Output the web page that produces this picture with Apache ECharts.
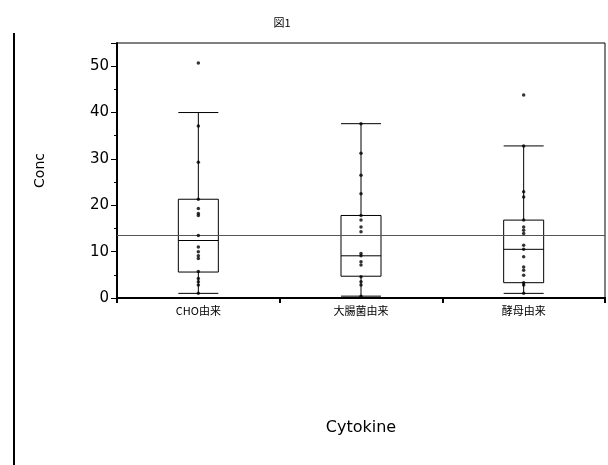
<!DOCTYPE html>
<html>
<head>
<meta charset="utf-8">
<script src="https://cdn.jsdelivr.net/npm/echarts@6/dist/echarts.min.js"></script>
<style>html,body{margin:0;padding:0;background:#fff;}#c{width:608px;height:465px;}</style>
</head>
<body>
<div id="c"></div>
<script>
var categories = ['CHO由来', '大腸菌由来', '酵母由来'];
// [lower whisker, Q1, median, Q3, upper whisker]
var boxCHO = [1.0, 5.6, 12.4, 21.3, 40.0];
var boxEcoli = [0.4, 4.7, 9.1, 17.8, 37.6];
var boxYeast = [1.0, 3.3, 10.5, 16.8, 32.8];
var pointsCHO = [50.7, 37.1, 29.3, 21.3, 19.3, 18.2, 17.8, 13.5, 11.0, 10.0, 9.1, 8.5, 5.7, 4.2, 3.5, 2.8, 1.0];
var pointsEcoli = [37.6, 31.2, 26.5, 22.5, 17.8, 16.8, 15.3, 14.3, 9.6, 9.1, 7.8, 7.1, 4.6, 3.5, 2.8, 0.4];
var pointsYeast = [43.8, 32.8, 22.9, 21.8, 16.8, 15.3, 14.6, 13.9, 11.4, 10.5, 8.9, 6.7, 6.0, 4.9, 3.3, 2.8, 1.0];
var grandMean = 13.5;
var yMin = 0, yMax = 55, yInterval = 10;

var boxes = [boxCHO, boxEcoli, boxYeast];
var pts = [pointsCHO, pointsEcoli, pointsYeast];
var scatterData = [];
pts.forEach(function (arr, i) {
  arr.forEach(function (v) { scatterData.push([categories[i], v]); });
});

var chart = echarts.init(document.getElementById('c'));
chart.setOption({
  backgroundColor: '#fff',
  animation: false,
  title: {
    text: '図1', left: 277, top: 12, textAlign: 'center',
    textStyle: { fontSize: 11, fontWeight: 'normal', color: '#000', fontFamily: 'Noto Sans CJK JP' }
  },
  grid: { left: 117, right: 3, top: 43, bottom: 167, show: true, borderColor: '#000', borderWidth: 1, backgroundColor: 'transparent' },
  xAxis: {
    type: 'category', data: categories, boundaryGap: true,
    name: 'Cytokine', nameLocation: 'middle', nameGap: 122,
    nameTextStyle: { fontSize: 16, color: '#000', fontFamily: 'DejaVu Sans' },
    axisLine: { lineStyle: { color: '#000', width: 2 } },
    axisTick: { show: true, alignWithLabel: false, length: 5, lineStyle: { color: '#000', width: 2 } },
    axisLabel: { fontSize: 11, color: '#000', margin: 7, fontFamily: 'Noto Sans CJK JP' },
    splitLine: { show: false }
  },
  yAxis: {
    type: 'value', min: yMin, max: yMax, interval: yInterval,
    name: 'Conc', nameLocation: 'middle', nameGap: 70, nameRotate: 90,
    nameTextStyle: { fontSize: 14, color: '#000', fontFamily: 'DejaVu Sans' },
    axisLine: { show: true, lineStyle: { color: '#000', width: 2 } },
    axisTick: { show: true, length: 6, lineStyle: { color: '#000', width: 1 } },
    minorTick: { show: true, splitNumber: 2, length: 3, lineStyle: { color: '#000' } },
    axisLabel: { fontSize: 15, color: '#000', margin: 8, fontFamily: 'DejaVu Sans', showMaxLabel: false },
    splitLine: { show: false }
  },
  graphic: [{
    type: 'line', shape: { x1: 14, y1: 33, x2: 14, y2: 465 },
    style: { stroke: '#000', lineWidth: 2 }
  }],
  series: [{
    type: 'boxplot',
    data: boxes,
    boxWidth: [40, 40],
    itemStyle: { color: '#fff', borderColor: '#000', borderWidth: 1 },
    z: 2,
    markLine: {
      silent: true, symbol: 'none', label: { show: false },
      lineStyle: { color: '#555', type: 'solid', width: 1 },
      data: [{ yAxis: grandMean }]
    }
  }, {
    type: 'scatter',
    data: scatterData,
    symbol: 'circle', symbolSize: 3.5,
    itemStyle: { color: '#000' },
    z: 5
  }]
});
</script>
</body>
</html>
